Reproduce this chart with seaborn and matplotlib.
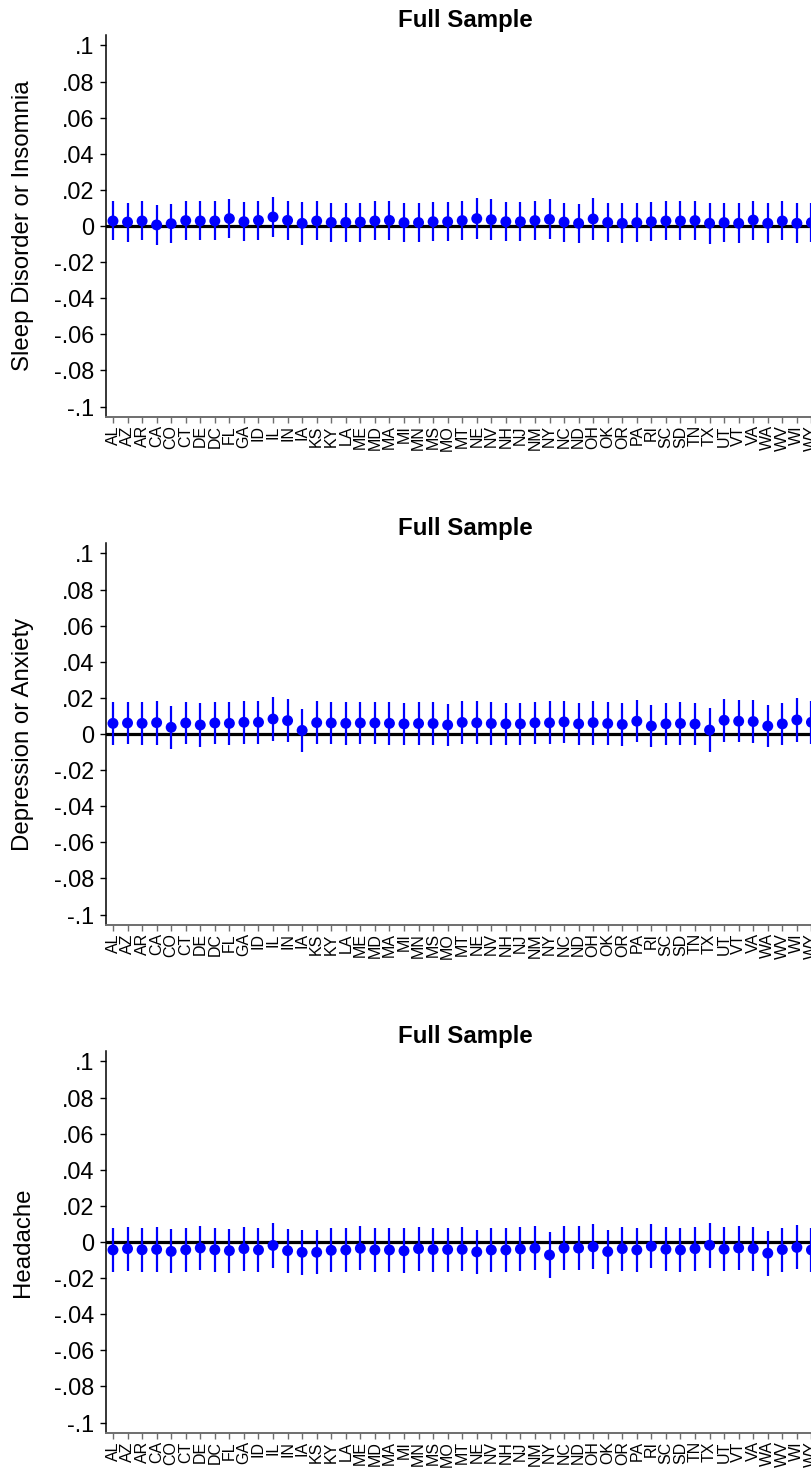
import numpy as np
import pandas as pd
import matplotlib
matplotlib.use("Agg")
import matplotlib.pyplot as plt
import seaborn as sns

# ---------------- data ----------------
states = ["AL", "AZ", "AR", "CA", "CO", "CT", "DE", "DC", "FL", "GA", "ID", "IL", "IN",
          "IA", "KS", "KY", "LA", "ME", "MD", "MA", "MI", "MN", "MS", "MO", "MT", "NE",
          "NV", "NH", "NJ", "NM", "NY", "NC", "ND", "OH", "OK", "OR", "PA", "RI", "SC",
          "SD", "TN", "TX", "UT", "VT", "VA", "WA", "WV", "WI", "WY"]

sleep_est = [0.0028, 0.0022, 0.0028, 0.0006, 0.0013, 0.0030, 0.0028, 0.0028, 0.0041, 0.0024,
             0.0031, 0.0050, 0.0031, 0.0015, 0.0028, 0.0020, 0.0020, 0.0022, 0.0028, 0.0031,
             0.0019, 0.0019, 0.0024, 0.0024, 0.0030, 0.0041, 0.0035, 0.0024, 0.0024, 0.0030,
             0.0037, 0.0022, 0.0015, 0.0039, 0.0020, 0.0015, 0.0019, 0.0024, 0.0028, 0.0028,
             0.0030, 0.0015, 0.0019, 0.0015, 0.0033, 0.0015, 0.0028, 0.0015, 0.0019]
sleep_hw = [0.0108, 0.0108, 0.0108, 0.0112, 0.0108, 0.0108, 0.0108, 0.0108, 0.0110, 0.0108,
            0.0108, 0.0112, 0.0108, 0.0118, 0.0108, 0.0108, 0.0108, 0.0108, 0.0108, 0.0108,
            0.0108, 0.0110, 0.0108, 0.0108, 0.0108, 0.0112, 0.0112, 0.0108, 0.0108, 0.0108,
            0.0110, 0.0108, 0.0108, 0.0118, 0.0108, 0.0110, 0.0108, 0.0108, 0.0108, 0.0108,
            0.0108, 0.0112, 0.0108, 0.0110, 0.0108, 0.0110, 0.0108, 0.0110, 0.0108]

dep_est = [0.0059, 0.0061, 0.0059, 0.0063, 0.0037, 0.0061, 0.0050, 0.0061, 0.0059, 0.0065,
           0.0065, 0.0083, 0.0074, 0.0020, 0.0063, 0.0061, 0.0059, 0.0061, 0.0061, 0.0059,
           0.0056, 0.0058, 0.0058, 0.0050, 0.0064, 0.0062, 0.0058, 0.0056, 0.0056, 0.0062,
           0.0062, 0.0067, 0.0056, 0.0063, 0.0058, 0.0053, 0.0071, 0.0044, 0.0056, 0.0058,
           0.0055, 0.0022, 0.0076, 0.0071, 0.0069, 0.0044, 0.0056, 0.0078, 0.0065]
dep_hw = [0.0118, 0.0118, 0.0118, 0.0122, 0.0120, 0.0118, 0.0120, 0.0118, 0.0118, 0.0118,
          0.0118, 0.0122, 0.0120, 0.0118, 0.0118, 0.0118, 0.0118, 0.0118, 0.0118, 0.0118,
          0.0118, 0.0118, 0.0118, 0.0118, 0.0118, 0.0120, 0.0120, 0.0118, 0.0118, 0.0118,
          0.0120, 0.0118, 0.0118, 0.0122, 0.0118, 0.0120, 0.0118, 0.0118, 0.0118, 0.0118,
          0.0118, 0.0120, 0.0118, 0.0118, 0.0118, 0.0118, 0.0118, 0.0122, 0.0118]

head_est = [-0.0044, -0.0037, -0.0043, -0.0041, -0.0052, -0.0043, -0.0033, -0.0043, -0.0048, -0.0037,
            -0.0044, -0.0019, -0.0048, -0.0057, -0.0057, -0.0046, -0.0044, -0.0035, -0.0044, -0.0044,
            -0.0049, -0.0037, -0.0042, -0.0042, -0.0041, -0.0055, -0.0044, -0.0044, -0.0039, -0.0035,
            -0.0072, -0.0034, -0.0034, -0.0027, -0.0053, -0.0037, -0.0044, -0.0024, -0.0040, -0.0044,
            -0.0037, -0.0018, -0.0040, -0.0033, -0.0037, -0.0062, -0.0042, -0.0030, -0.0044]
head_hw = [0.0122, 0.0122, 0.0122, 0.0125, 0.0122, 0.0122, 0.0122, 0.0122, 0.0122, 0.0122,
           0.0122, 0.0125, 0.0122, 0.0125, 0.0122, 0.0122, 0.0122, 0.0122, 0.0122, 0.0122,
           0.0125, 0.0122, 0.0122, 0.0122, 0.0122, 0.0122, 0.0122, 0.0122, 0.0122, 0.0122,
           0.0125, 0.0122, 0.0122, 0.0125, 0.0122, 0.0122, 0.0122, 0.0122, 0.0122, 0.0122,
           0.0122, 0.0125, 0.0122, 0.0122, 0.0122, 0.0125, 0.0122, 0.0122, 0.0122]

ytick_vals = [0.1, 0.08, 0.06, 0.04, 0.02, 0.0, -0.02, -0.04, -0.06, -0.08, -0.1]
ytick_labels = [".1", ".08", ".06", ".04", ".02", "0", "-.02", "-.04", "-.06", "-.08", "-.1"]

panel_titles = ["Full Sample", "Full Sample", "Full Sample"]
panel_ylabels = ["Sleep Disorder or Insomnia", "Depression or Anxiety", "Headache"]
panel_est = [sleep_est, dep_est, head_est]
panel_hw = [sleep_hw, dep_hw, head_hw]

# ---------------- style ----------------
sns.set_style("white")
plt.rcParams["font.family"] = ["Liberation Sans", "DejaVu Sans"]
plt.rcParams["text.color"] = "black"
plt.rcParams["axes.labelcolor"] = "black"
plt.rcParams["axes.titlecolor"] = "black"
plt.rcParams["xtick.labelcolor"] = "black"
plt.rcParams["ytick.labelcolor"] = "black"

W, H = 812, 1475
fig = plt.figure(figsize=(W / 100, H / 100), dpi=100)

ax_left_px = 105.7
ax_width_px = 713.0
tops_px = [35, 543, 1051]
ax_h_px = 382

BLUE = "#0000FF"

for i in range(3):
    top = tops_px[i]
    ax = fig.add_axes([ax_left_px / W, 1 - (top + ax_h_px) / H, ax_width_px / W, ax_h_px / H])
    df = pd.DataFrame({"state": states, "est": panel_est[i]})
    df["lo"] = df["est"] - np.array(panel_hw[i])
    df["hi"] = df["est"] + np.array(panel_hw[i])

    ax.axhline(0, color="black", lw=2.3, zorder=1)
    ax.vlines(df["state"], df["lo"], df["hi"], color=BLUE, lw=1.6, zorder=2)
    sns.scatterplot(data=df, x="state", y="est", ax=ax, color=BLUE, s=62,
                    edgecolor="none", linewidth=0, zorder=3, legend=False)

    ax.set_xlim(-0.5, len(states) - 0.5)
    ax.set_ylim(-0.1058, 0.1058)
    ax.set_yticks(ytick_vals)
    ax.set_yticklabels(ytick_labels)
    ax.set_xticks(range(len(states)))
    ax.set_xticklabels(states, rotation=90, fontsize=11.5)

    ax.tick_params(axis="y", length=4.5, width=1.0, color="black", pad=3.6,
                   labelsize=16.8, left=True, labelcolor="black")
    ax.tick_params(axis="x", length=4, width=1.0, color="#6e6e6e", pad=2,
                   bottom=True, labelcolor="black")

    for side in ["top", "right"]:
        ax.spines[side].set_visible(False)
    ax.spines["left"].set_color("black")
    ax.spines["left"].set_linewidth(1.1)
    ax.spines["bottom"].set_color("#6e6e6e")
    ax.spines["bottom"].set_linewidth(1.4)

    ax.set_xlabel("")
    ax.set_ylabel(panel_ylabels[i], fontsize=17.3, color="black")
    ax.yaxis.set_label_coords(-0.101, 0.5)
    ax.set_title(panel_titles[i], fontsize=17.3, fontweight="bold", pad=6, x=0.504,
                 color="black")
    ax.grid(False)

fig.savefig("out.png", dpi=100, facecolor="white")
